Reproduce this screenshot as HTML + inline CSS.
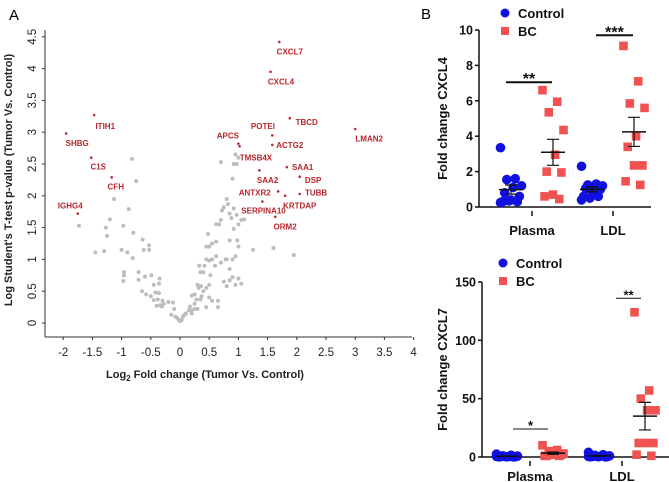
<!DOCTYPE html>
<html><head><meta charset="utf-8"><style>
body{margin:0;background:#fff}
svg{display:block;font-family:"Liberation Sans",Arial,sans-serif}
</style></head><body>
<svg id="fig" width="669" height="482" viewBox="0 0 669 482" xmlns="http://www.w3.org/2000/svg">
<text x="9" y="20" font-size="15">A</text>
<text x="421" y="19" font-size="15">B</text>
<g id="volcano"></g>
<g id="cx4"></g>
<g id="cx7"></g>
</svg>
<script>
// ---------- Volcano data ----------
const grayX=[-0.82,-0.75,-1.13,-0.88,-1.2,-1.73,-1.27,-1.25,-0.97,-0.8,-0.64,-1.45,-1.3,-1.0,-0.9,-0.81,-0.62,-0.53,-0.53,-0.96,-0.96,-0.97,-0.71,-0.71,-0.6,-0.49,-0.65,-0.58,-0.45,-0.36,-0.35,-0.42,-0.36,-0.5,-0.45,-0.38,-0.3,-0.28,-0.31,-0.34,-0.4,-0.2,-0.12,-0.1,-0.15,-0.08,-0.05,-0.02,0,0.03,0.05,0.08,0.1,0.15,0.17,0.2,0.25,0.3,0.2,0.28,0.25,0.35,0.37,0.3,0.32,0.36,0.4,0.45,0.5,0.55,0.5,0.52,0.4,0.35,0.33,0.42,0.45,0.5,0.55,0.6,0.62,0.7,0.75,0.8,0.85,0.9,0.95,0.85,0.78,0.8,0.9,0.95,1.0,1.05,0.45,0.5,0.55,0.62,0.48,0.62,0.67,0.7,0.72,0.75,0.8,0.82,0.85,0.88,0.92,0.97,0.92,0.85,0.98,1.0,1.05,1.1,1.0,0.7,0.9,0.92,0.97,0.95,1.0,1.25,1.6,1.95,0.25,0.45,0.65,0.65,0.2];
const grayY=[2.58,2.23,1.95,1.79,1.63,1.53,1.5,1.37,1.53,1.42,1.31,1.11,1.13,1.15,1.11,1.02,1.15,1.22,1.15,0.8,0.75,0.66,0.8,0.68,0.73,0.75,0.5,0.45,0.6,0.62,0.7,0.48,0.47,0.42,0.36,0.37,0.35,0.3,0.26,0.28,0.27,0.33,0.32,0.22,0.13,0.1,0.08,0.05,0.03,0.05,0.1,0.13,0.15,0.2,0.26,0.2,0.22,0.22,0.43,0.37,0.45,0.37,0.42,0.6,0.55,0.58,0.5,0.55,0.4,0.35,0.6,0.75,0.8,0.8,0.9,0.9,1.0,0.98,1.0,0.9,1.05,0.95,0.65,0.58,0.67,0.72,0.6,0.85,1.0,1.0,1.0,1.05,0.7,0.62,1.2,1.2,1.25,1.28,1.4,1.55,1.55,1.62,1.77,1.82,1.95,1.87,1.72,1.65,1.8,1.7,1.48,1.3,1.3,1.55,1.62,1.63,1.2,2.53,2.27,2.5,2.5,2.65,2.6,1.15,1.18,1.07,0.3,0.25,0.25,0.35,0.15];
const genes=["CXCL7","CXCL4","ITIH1","TBCD","LMAN2","SHBG","POTEI","APCS","ACTG2","TMSB4X","C1S","SAA1","SAA2","DSP","CFH","ANTXR2","TUBB","KRTDAP","SERPINA10","IGHG4","ORM2"];
const geneX=[1.7,1.55,-1.47,1.88,3.0,-1.95,1.58,1.0,1.58,1.02,-1.52,1.83,1.36,2.05,-1.17,1.68,2.05,1.8,1.41,-1.75,1.63];
const geneY=[4.42,3.95,3.27,3.22,3.05,2.98,2.95,2.82,2.8,2.78,2.6,2.45,2.4,2.3,2.29,2.07,2.03,2.0,1.91,1.72,1.67];
const labelX=[1.88,1.73,-1.28,2.17,3.24,-1.76,1.42,0.82,1.88,1.3,-1.4,2.1,1.5,2.28,-1.1,1.28,2.33,2.05,1.43,-1.88,1.8];
const labelY=[4.27,3.8,3.1,3.16,2.9,2.83,3.1,2.95,2.8,2.6,2.46,2.45,2.25,2.25,2.15,2.05,2.05,1.85,1.77,1.85,1.52];
const vxTicks=["-2","-1.5","-1","-0.5","0","0.5","1","1.5","2","2.5","3","3.5","4"];
const vyTicks=["0","0.5","1","1.5","2","2.5","3","3.5","4","4.5"];
// ---------- CXCL4 data ----------
const c4CtrlPlasma=[3.35,1.6,1.55,1.2,1.1,0.8,0.6,0.4,0.3,0.3,0.35,0.25];
const c4BCPlasma=[6.6,5.95,5.35,4.35,2.95,2.0,1.95,0.7,0.6,0.45];
const c4CtrlLDL=[2.3,1.3,1.25,1.2,1.1,1.05,1.0,0.9,0.6,0.6,0.5,0.4,0.7];
const c4BCLDL=[9.1,7.1,5.85,5.6,4.0,3.4,2.35,2.35,1.45,1.25];
const c4Ticks=[0,2,4,6,8,10];
// ---------- CXCL7 data ----------
const c7CtrlPlasma=[2.5,1.5,1,0.8,0.5,0.3,0.2,0.2,0.1,0.1,0.4,0.6];
const c7BCPlasma=[10,6,5,3,2,1,2,2,1,1];
const c7CtrlLDL=[4,2,1.5,1,0.8,0.5,0.3,0.2,0.2,0.1,0.5,0.4];
const c7BCLDL=[124,57,50,40,40,12,12,12,2,1];
const c7Ticks=[0,50,100,150];
const categories=["Plasma","LDL"];

const NS="http://www.w3.org/2000/svg";
function mk(parent,tag,attrs,text){const e=document.createElementNS(NS,tag);for(const k in attrs)e.setAttribute(k,attrs[k]);if(text!==undefined)e.textContent=text;parent.appendChild(e);return e;}

// ---------- Volcano ----------
(function(){
const g=document.getElementById('volcano');
const vx=v=>180+v*58.4, vy=v=>323-v*63.6;
let a=mk(g,'line',{x1:45,y1:30,x2:45,y2:337,stroke:'#333','stroke-width':1});


a=mk(g,'line',{x1:45,y1:337,x2:412,y2:337,stroke:'#333','stroke-width':1});


vxTicks.forEach(t=>{const x=vx(parseFloat(t));
 mk(g,'line',{x1:x,y1:337,x2:x,y2:340,stroke:'#333'});
 const e=mk(g,'text',{x:x,y:356,'font-size':11.5,'text-anchor':'middle',fill:'#222'},t);
 
 });
vyTicks.forEach(t=>{const y=vy(parseFloat(t));
 mk(g,'line',{x1:42,y1:y,x2:45,y2:y,stroke:'#333'});
 const e=mk(g,'text',{x:36,y:y,'font-size':11.5,'text-anchor':'middle',fill:'#222',transform:`rotate(-90 36 ${y})`},t);
 
 });
let t=mk(g,'text',{x:205,y:378,'font-size':11,'font-weight':'bold','text-anchor':'middle',fill:'#222'});
t.innerHTML='Log<tspan font-size="8" dy="3">2</tspan><tspan dy="-3"> Fold change (Tumor Vs. Control)</tspan>';


t=mk(g,'text',{x:12,y:180,'font-size':11,'font-weight':'bold','text-anchor':'middle',fill:'#222',transform:'rotate(-90 12 180)'},"Log Student's T-test p-value (Tumor Vs. Control)");


grayX.forEach((x,i)=>{const c=mk(g,'circle',{cx:vx(x),cy:vy(grayY[i]),r:2,fill:'#bdbdbd'});
 
 });
genes.forEach((n,i)=>{const c=mk(g,'circle',{cx:vx(geneX[i]),cy:vy(geneY[i]),r:1.3,fill:'#c0282c'});
 
 
 const e=mk(g,'text',{x:vx(labelX[i]),y:vy(labelY[i])+3,'font-size':8,'font-weight':'bold','text-anchor':'middle',fill:'#b8252a'},n);
 
 });
})();

// ---------- Scatter dot plots ----------
function dotPlot(id,o){
const g=document.getElementById(id);
const sy=v=>o.y0-v*o.scale;
let a=mk(g,'line',{x1:o.ax,y1:o.yTop,x2:o.ax,y2:o.y0,stroke:'#111','stroke-width':1.5});


a=mk(g,'line',{x1:o.ax,y1:o.y0,x2:o.xEnd,y2:o.y0,stroke:'#111','stroke-width':1.5});


o.ticks.forEach(tv=>{const y=sy(tv);
 mk(g,'line',{x1:o.ax-4,y1:y,x2:o.ax,y2:y,stroke:'#111','stroke-width':1.5});
 const e=mk(g,'text',{x:o.ax-6,y:y+4.5,'font-size':12.5,'font-weight':'bold','text-anchor':'end',fill:'#111'},tv);
 
 });
const t=mk(g,'text',{x:o.titleX,y:(o.yTop+o.y0)/2,'font-size':13,'font-weight':'bold','text-anchor':'middle',fill:'#111',transform:`rotate(-90 ${o.titleX} ${(o.yTop+o.y0)/2})`},o.title);


categories.forEach((c,i)=>{const cx=o.cats[i];
 mk(g,'line',{x1:cx,y1:o.y0+4,x2:cx,y2:o.y0+9,stroke:'#111','stroke-width':1.5});
 const e=mk(g,'text',{x:cx,y:o.catY,'font-size':13,'font-weight':'bold','text-anchor':'middle',fill:'#111'},c);
 
 });
o.groups.forEach((gr,gi)=>{
 const cx=o.cats[gr.cat]+(gr.ctrl?-o.off:o.off);
 gr.vals.forEach((v,i)=>{const dx=((i*7)%11-5)*2.1;
  let m;
  if(gr.ctrl){m=mk(g,'circle',{cx:cx+dx,cy:sy(v),r:4.8,fill:'#1010e0'});}
  else{m=mk(g,'rect',{x:cx+dx-4.3,y:sy(v)-4.3,width:8.6,height:8.6,fill:'#f05252'});}
  });
 const n=gr.vals.length,mean=gr.vals.reduce((s,v)=>s+v,0)/n;
 const sd=Math.sqrt(gr.vals.reduce((s,v)=>s+(v-mean)**2,0)/(n-1)),sem=sd/Math.sqrt(n);
 const m=mk(g,'line',{x1:cx-12,y1:sy(mean),x2:cx+12,y2:sy(mean),stroke:'#111','stroke-width':1.5});
 
 
 const eb=mk(g,'path',{d:`M${cx-6} ${sy(mean+sem)}H${cx+6}M${cx} ${sy(mean+sem)}V${sy(mean-sem)}M${cx-6} ${sy(mean-sem)}H${cx+6}`,stroke:'#111','stroke-width':1.2,fill:'none'});
 
 
});
o.sig.forEach(s=>{
 const l=mk(g,'line',{x1:s.x1,y1:sy(s.v),x2:s.x2,y2:sy(s.v),stroke:'#111','stroke-width':o.sigW});
 
 
 const e=mk(g,'text',{x:(s.x1+s.x2)/2,y:sy(s.v)-4+o.starDy,'font-size':o.starSize,'font-weight':'bold','text-anchor':'middle',fill:'#111'},s.t);
 
 });
let c=mk(g,'circle',{cx:o.legX,cy:o.legY,r:4.5,fill:'#1010e0'});


let e=mk(g,'text',{x:o.legX+13,y:o.legY+5,'font-size':13,'font-weight':'bold',fill:'#111'},'Control');


c=mk(g,'rect',{x:o.legX-4,y:o.legY+14,width:8,height:8,fill:'#f05252'});


e=mk(g,'text',{x:o.legX+13,y:o.legY+23,'font-size':13,'font-weight':'bold',fill:'#111'},'BC');


}
dotPlot('cx4',{ax:479,y0:207,yTop:30,scale:17.7,xEnd:651,ticks:c4Ticks,title:'Fold change CXCL4',titleX:447,
 cats:[532,613],off:21,catY:235,legX:505,legY:13,sigW:2,starSize:16,starDy:6,
 groups:[{cat:0,ctrl:true,vals:c4CtrlPlasma},{cat:0,ctrl:false,vals:c4BCPlasma},{cat:1,ctrl:true,vals:c4CtrlLDL},{cat:1,ctrl:false,vals:c4BCLDL}],
 sig:[{x1:506,x2:552,v:7.05,t:'**'},{x1:596,x2:633,v:9.7,t:'***'}]});
dotPlot('cx7',{ax:482,y0:457,yTop:282,scale:1.167,xEnd:669,ticks:c7Ticks,title:'Fold change CXCL7',titleX:447,
 cats:[530,622],off:23,catY:481,legX:503,legY:263,sigW:1,starSize:13,starDy:5,
 groups:[{cat:0,ctrl:true,vals:c7CtrlPlasma},{cat:0,ctrl:false,vals:c7BCPlasma},{cat:1,ctrl:true,vals:c7CtrlLDL},{cat:1,ctrl:false,vals:c7BCLDL}],
 sig:[{x1:513,x2:548,v:24,t:'*'},{x1:616,x2:641,v:136,t:'**'}]});
</script>
</body></html>
